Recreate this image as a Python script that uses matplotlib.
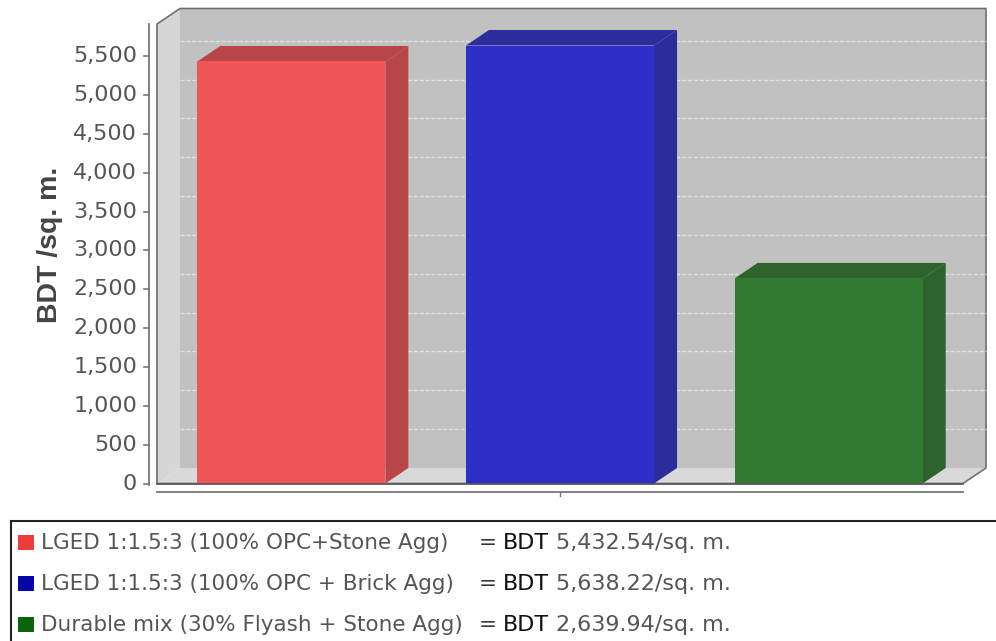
#!/usr/bin/env python3
# -*- coding: utf-8 -*-
import matplotlib
matplotlib.use('Agg')
import matplotlib.pyplot as plt
from matplotlib.patches import Polygon, Rectangle

W, H = 996, 641

labels = ['LGED 1:1.5:3 (100% OPC+Stone Agg)',
          'LGED 1:1.5:3 (100% OPC + Brick Agg)',
          'Durable mix (30% Flyash + Stone Agg)']
values = [5432.54, 5638.22, 2639.94]
y_ticks = [0, 500, 1000, 1500, 2000, 2500, 3000, 3500, 4000, 4500, 5000, 5500]
front_colors = ['#f0555a', '#2e2ec8', '#327a32']
dark_colors = ['#b84547', '#2c2c9c', '#2d642d']
legend_colors = ['#ee3b3b', '#0505a8', '#0a640f']

fig = plt.figure(figsize=(W / 100, H / 100), dpi=100, facecolor='white')

# front plane of the 3d box, everything else is offset from it
left, right, top, bottom = 157, 963, 24, 483.5
ax = fig.add_axes([left / W, 1 - bottom / H, (right - left) / W, (bottom - top) / H])
ax.set_xlim(-0.5, 2.5)
ax.set_ylim(0, 5915)
ax.patch.set_visible(False)
for s in ax.spines.values():
    s.set_visible(False)

ymax = ax.get_ylim()[1]
xl, xr = ax.get_xlim()
dx = 23 / ((right - left) / 3)   # depth in x data units
dy = 15.5 / ((bottom - top) / ymax)  # depth in value units
edge = '#707070'


def poly(pts, fc, z=1):
    ax.add_patch(Polygon(pts, closed=True, facecolor=fc, edgecolor='none', zorder=z, clip_on=False))


# walls and floor, no lines between them
poly([(xl + dx, dy), (xr + dx, dy), (xr + dx, ymax + dy), (xl + dx, ymax + dy)], '#c1c1c1')
poly([(xl, 0), (xl + dx, dy), (xl + dx, ymax + dy), (xl, ymax)], '#d6d6d6')
poly([(xl, 0), (xr, 0), (xr + dx, dy), (xl + dx, dy)], '#d9d9d9')

# outer outline only
ax.plot([xl, xl, xl + dx, xr + dx, xr + dx, xr, xl],
        [0, ymax, ymax + dy, ymax + dy, dy, 0, 0],
        color=edge, lw=1.2, zorder=2, clip_on=False)

# grid on the back wall
for t in y_ticks[1:]:
    ax.plot([xl + dx, xr + dx], [t + dy, t + dy], color='#e2e2e2', lw=1.0,
            ls=(0, (3, 1.2)), zorder=2, clip_on=False)

# bars
width = 0.7
for i, v in enumerate(values):
    x0, x1 = i - width / 2, i + width / 2
    poly([(x0, v), (x1, v), (x1 + dx, v + dy), (x0 + dx, v + dy)], dark_colors[i], z=3)
    poly([(x1, 0), (x1 + dx, dy), (x1 + dx, v + dy), (x1, v)], dark_colors[i], z=3)
ax.bar(range(3), values, width=width, color=front_colors, zorder=4)
ax.plot([xl, xr], [0, 0], color='#555555', lw=1.2, zorder=5, clip_on=False)

ax.set_xticks([])
ax.set_yticks([])

# axis lines + labels sit outside the box, on an overlay in pixels
ov = fig.add_axes([0, 0, 1, 1])
ov.set_xlim(0, W)
ov.set_ylim(H, 0)
ov.axis('off')
ov.patch.set_visible(False)

ov.plot([149, 149], [24, 485], color='#777777', lw=1.3)
ov.plot([157, 963], [492, 492], color='#777777', lw=1.3)
ov.plot([560, 560], [492, 496], color='#777777', lw=1.0)
for t in y_ticks:
    py = bottom - t * (bottom - top) / ymax
    ov.plot([144, 149], [py, py], color='#777777', lw=1.2)
    ov.text(137, py, f'{t:,}', ha='right', va='center', fontsize=16, color='#555555')
ov.text(50, 245, 'BDT /sq. m.', rotation=90, ha='center', va='center', fontsize=20.5,
        fontweight='bold', family='Liberation Sans', color='#444444')

# legend box runs off the picture at right and bottom
ov.add_patch(Rectangle((10.5, 520.5), W + 20, H, facecolor='white', edgecolor='#222222',
                       linewidth=1.5))
rows = [543, 584, 625]
for i, py in enumerate(rows):
    ov.add_patch(Rectangle((18, py - 8), 16, 15, facecolor=legend_colors[i], edgecolor='none'))
    ov.text(41, py, labels[i], ha='left', va='center', fontsize=15.5, color='#555555')
    ov.text(479, py, '=', ha='left', va='center', fontsize=15.5, color='#333333')
    ov.text(503, py, 'BDT', ha='left', va='center', fontsize=16, color='#111111')
    ov.text(556, py, f'{values[i]:,.2f}/sq. m.', ha='left', va='center', fontsize=16, color='#555555')

fig.savefig('out.png', dpi=100)
